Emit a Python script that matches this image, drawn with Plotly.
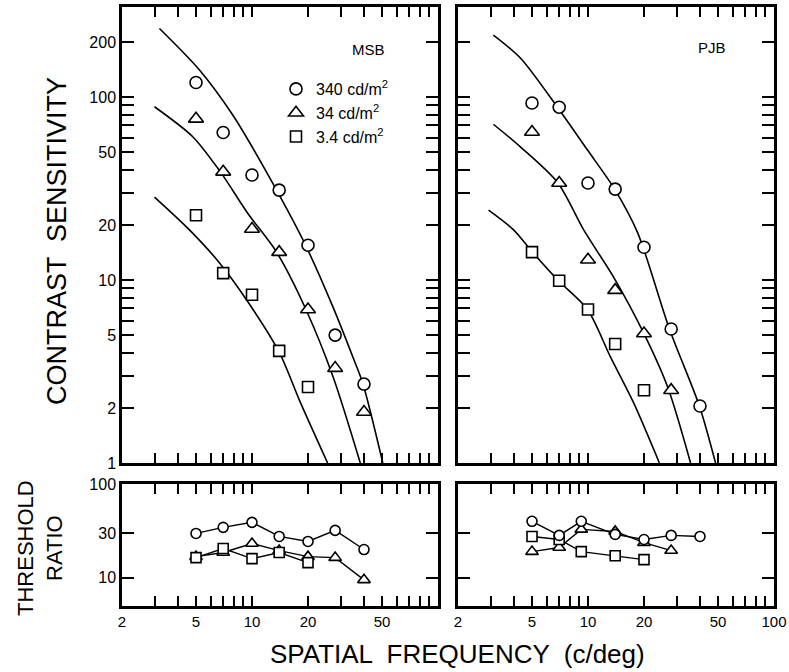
import math
import plotly.graph_objects as go

# ---------------- data ----------------
freq = [5, 7, 10, 14, 20, 28, 40]
freq_sq = [5, 7, 10, 14, 20]
freq_tri_pjb = [5, 7, 10, 14, 20, 28]

msb_340 = [120, 64, 37.5, 31, 15.5, 5.0, 2.7]
msb_34 = [76, 39, 19, 14.2, 6.9, 3.3, 1.9]
msb_3_4 = [22.6, 10.9, 8.3, 4.1, 2.6]

pjb_340 = [92.7, 88, 33.9, 31.4, 15.1, 5.4, 2.05]
pjb_34 = [64.4, 33.9, 12.9, 8.8, 5.1, 2.5]
pjb_3_4 = [14.2, 9.9, 6.9, 4.47, 2.5]

# fitted curves
msb_fit340_f = [3.18, 5.22, 7.88, 12.2, 19.4, 27.2, 34.8, 39.4, 50.5]
msb_fit340_s = [237, 140.6, 79.7, 37.5, 15.5, 7.15, 3.81, 2.73, 1.0]
msb_fit34_f = [2.99, 4.8, 6.75, 9.5, 13.5, 19.5, 27.3, 38.2]
msb_fit34_s = [88.5, 60.7, 39.1, 23.1, 14.3, 6.9, 2.95, 1.0]
msb_fit3_f = [2.99, 4.61, 6.69, 9.34, 14.06, 18.0, 25.5]
msb_fit3_s = [28.4, 18.8, 12.4, 7.8, 4.0, 2.2, 1.0]

pjb_fit340_f = [3.10, 4.34, 6.85, 9.94, 13.9, 18.5, 27.4, 39.7, 48.5]
pjb_fit340_s = [218, 163, 88, 51.3, 31.4, 18.1, 5.4, 2.05, 1.0]
pjb_fit34_f = [3.10, 4.34, 6.85, 9.48, 13.7, 19.6, 26.8, 35.6]
pjb_fit34_s = [71, 53.3, 34.2, 18.8, 10.4, 5.3, 2.6, 1.0]
pjb_fit3_f = [2.92, 3.98, 5.03, 6.94, 9.94, 13.2, 17.6, 24.2]
pjb_fit3_s = [24.1, 18.8, 14.2, 9.9, 6.9, 3.8, 2.13, 1.0]

# threshold ratios
msb_ratio_340 = [29.7, 34.5, 39, 27.6, 24.4, 32, 20]
msb_ratio_34 = [16.8, 18.6, 23.2, 19.5, 16.8, 16.4, 9.5]
msb_ratio_3_4 = [16.4, 20.5, 16, 18.6, 14.5]
pjb_ratio_freq = [5, 7, 9.2, 14, 20, 28, 40]
pjb_ratio_340 = [40, 28.3, 40, 29, 25.6, 28.3, 27.6]
pjb_ratio_34 = [19, 21, 32.8, 31.2, 23.7, 19.5]
pjb_ratio_3_4 = [27.6, 25.6, 19, 17.2, 15.6]

legend_names = ["340 cd/m<sup>2</sup>", "34 cd/m<sup>2</sup>", "3.4 cd/m<sup>2</sup>"]

x_labels_left = [2, 5, 10, 20, 50]
x_labels_right = [2, 5, 10, 20, 50, 100]
y_top_labels = [1, 2, 5, 10, 20, 50, 100, 200]
y_bot_labels = [10, 30, 100]
x_tick_marks = [2, 3, 4, 5, 6, 7, 8, 9, 10, 20, 30, 40, 50, 60, 70, 80, 90, 100]
y_top_tick_marks = [1, 2, 3, 4, 5, 6, 7, 8, 9, 10, 20, 30, 40, 50, 60, 70, 80, 90, 100, 200]

# ---------------- figure ----------------
W, H = 789, 672
FONT = "Liberation Sans, Arial, sans-serif"
BLACK = "#000000"

fig = go.Figure()


def curve(xs, ys, xa, ya):
    fig.add_trace(go.Scatter(x=xs, y=ys, mode="lines", xaxis=xa, yaxis=ya,
                             line=dict(color=BLACK, width=1.6, shape="spline", smoothing=0.8),
                             showlegend=False, hoverinfo="skip"))


def pts(xs, ys, xa, ya, symbol, size, name=None, legend=False, lines=False):
    fig.add_trace(go.Scatter(x=xs, y=ys, mode="lines+markers" if lines else "markers",
                             xaxis=xa, yaxis=ya, name=name, showlegend=legend,
                             line=dict(color=BLACK, width=1.4),
                             marker=dict(symbol=symbol, size=size, color="white",
                                         line=dict(color=BLACK, width=1.6))))


# top-left MSB
curve(msb_fit340_f, msb_fit340_s, "x", "y")
curve(msb_fit34_f, msb_fit34_s, "x", "y")
curve(msb_fit3_f, msb_fit3_s, "x", "y")
pts(freq, msb_340, "x", "y", "circle", 12, legend_names[0], True)
pts(freq, msb_34, "x", "y", "triangle-up", 13, legend_names[1], True)
pts(freq_sq, msb_3_4, "x", "y", "square", 11, legend_names[2], True)

# top-right PJB
curve(pjb_fit340_f, pjb_fit340_s, "x2", "y2")
curve(pjb_fit34_f, pjb_fit34_s, "x2", "y2")
curve(pjb_fit3_f, pjb_fit3_s, "x2", "y2")
pts(freq, pjb_340, "x2", "y2", "circle", 12)
pts(freq_tri_pjb, pjb_34, "x2", "y2", "triangle-up", 13)
pts(freq_sq, pjb_3_4, "x2", "y2", "square", 11)

# bottom-left ratios
pts(freq, msb_ratio_34, "x3", "y3", "triangle-up", 11, lines=True)
pts(freq_sq, msb_ratio_3_4, "x3", "y3", "square", 10, lines=True)
pts(freq, msb_ratio_340, "x3", "y3", "circle", 10, lines=True)

# bottom-right ratios
pts(pjb_ratio_freq[:6], pjb_ratio_34, "x4", "y4", "triangle-up", 11, lines=True)
pts(pjb_ratio_freq[:5], pjb_ratio_3_4, "x4", "y4", "square", 10, lines=True)
pts(pjb_ratio_freq, pjb_ratio_340, "x4", "y4", "circle", 10, lines=True)

XR = [math.log10(2), 2.0]
YT = [0.0, 2.492]
YB = [math.log10(5), 2.0]
DL = [122 / W, 438 / W]
DR = [458 / W, 774 / W]
DT = [1 - 463 / H, 1 - 7 / H]
DB = [1 - 606 / H, 1 - 484 / H]


def texts(marks, labels):
    return [str(v) if v in labels else "" for v in marks]


def xaxis(domain, anchor, labels):
    return dict(type="log", range=XR, domain=domain, anchor=anchor,
                showgrid=False, zeroline=False, showline=True, linecolor=BLACK, linewidth=2.5,
                mirror="ticks", ticks="inside", ticklen=10, tickwidth=2, tickcolor=BLACK,
                tickvals=x_tick_marks, ticktext=texts(x_tick_marks, labels),
                showticklabels=bool(labels), tickfont=dict(family=FONT, size=15, color=BLACK))


def yaxis(domain, anchor, rng, marks, labels, show):
    return dict(type="log", range=rng, domain=domain, anchor=anchor,
                showgrid=False, zeroline=False, showline=True, linecolor=BLACK, linewidth=2.5,
                mirror="ticks", ticks="inside", ticklen=12, tickwidth=2, tickcolor=BLACK,
                tickvals=marks, ticktext=texts(marks, labels),
                showticklabels=show, tickfont=dict(family=FONT, size=16, color=BLACK))


fig.update_layout(
    template="none",
    width=W, height=H,
    margin=dict(l=0, r=0, t=0, b=0),
    paper_bgcolor="white", plot_bgcolor="white",
    font=dict(family=FONT, color=BLACK),
    xaxis=xaxis(DL, "y", []),
    yaxis=yaxis(DT, "x", YT, y_top_tick_marks, y_top_labels, True),
    xaxis2=xaxis(DR, "y2", []),
    yaxis2=yaxis(DT, "x2", YT, y_top_tick_marks, y_top_labels, False),
    xaxis3=xaxis(DL, "y3", x_labels_left),
    yaxis3=yaxis(DB, "x3", YB, y_bot_labels, y_bot_labels, True),
    xaxis4=xaxis(DR, "y4", x_labels_right),
    yaxis4=yaxis(DB, "x4", YB, y_bot_labels, y_bot_labels, False),
    showlegend=True,
    legend=dict(x=276 / W, y=1 - 72 / H, xanchor="left", yanchor="top",
                bgcolor="rgba(0,0,0,0)", borderwidth=0, tracegroupgap=0,
                font=dict(family=FONT, size=16, color=BLACK)),
    annotations=[
        dict(text="MSB", x=368 / W, y=1 - 50 / H, xref="paper", yref="paper",
             xanchor="center", yanchor="middle",
             showarrow=False, font=dict(family=FONT, size=15, color=BLACK)),
        dict(text="PJB", x=712 / W, y=1 - 48 / H, xref="paper", yref="paper",
             xanchor="center", yanchor="middle",
             showarrow=False, font=dict(family=FONT, size=15, color=BLACK)),
        dict(text="CONTRAST  SENSITIVITY", x=57 / W, y=1 - 241 / H, xref="paper", yref="paper",
             xanchor="center", yanchor="middle",
             textangle=-90, showarrow=False, font=dict(family=FONT, size=27, color=BLACK)),
        dict(text="THRESHOLD<br>RATIO", x=40 / W, y=1 - 548 / H, xref="paper", yref="paper",
             xanchor="center", yanchor="middle",
             textangle=-90, showarrow=False, font=dict(family=FONT, size=22, color=BLACK)),
        dict(text="SPATIAL  FREQUENCY  (c/deg)", x=457 / W, y=1 - 654 / H, xref="paper", yref="paper",
             xanchor="center", yanchor="middle",
             showarrow=False, font=dict(family=FONT, size=26, color=BLACK)),
    ],
)

fig.write_html(
    "out.html",
    post_script=(
        "document.body.style.margin='0px';document.body.style.overflow='hidden';"
        "var s=document.createElement('style');"
        "s.innerHTML='.modebar-container{display:none !important;}';"
        "document.head.appendChild(s);"
    ),
)
